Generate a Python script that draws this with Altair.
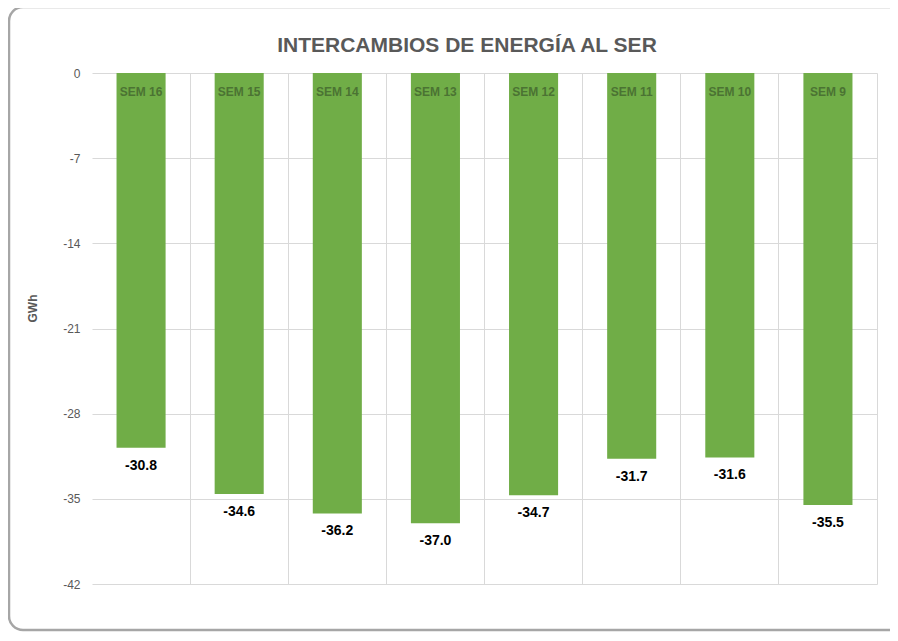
import altair as alt
import pandas as pd

weeks = ["SEM 16", "SEM 15", "SEM 14", "SEM 13", "SEM 12", "SEM 11", "SEM 10", "SEM 9"]
values = [-30.8, -34.6, -36.2, -37.0, -34.7, -31.7, -31.6, -35.5]
y_ticks = [0, -7, -14, -21, -28, -35, -42]
title_text = ["INTERCAMBIOS DE ENERGÍA AL SER"]

df = pd.DataFrame({"week": weeks, "value": values})
df["label"] = df["value"].map(lambda v: f"{v:.1f}")

FONT = "Liberation Sans Narrow, Arial Narrow, Liberation Sans, Arial, sans-serif"
GREEN = "#70AD47"

x_enc = alt.X("week:N", sort=weeks,
              scale=alt.Scale(paddingInner=0.5, paddingOuter=0.25),
              axis=alt.Axis(title=None, labels=False, ticks=False, domain=False,
                            grid=True, bandPosition=1.5, gridColor="#D9D9D9"))
y_scale = alt.Scale(domain=[-42, 0], nice=False, zero=False)

base = alt.Chart(df)

bars = base.mark_bar(color=GREEN).encode(
    x=x_enc,
    y=alt.Y("value:Q", scale=y_scale,
            axis=alt.Axis(values=y_ticks, title="GWh", grid=True, gridColor="#D9D9D9",
                          domain=False, ticks=False, labelPadding=12,
                          labelExpr="'' + datum.value",
                          labelColor="#595959", labelFont=FONT, labelFontSize=12,
                          titleFont=FONT, titleFontSize=12, titleColor="#595959",
                          titleFontWeight="bold", titleX=-60, titleY=235,
                          titleBaseline="middle", titleAlign="center", titleAngle=270)),
    y2=alt.datum(0),
)

cat_labels = base.mark_text(font=FONT, fontSize=12, fontWeight="bold", color="#4B7333",
                            baseline="middle", dy=19).encode(
    x=alt.X("week:N", sort=weeks),
    y=alt.datum(0),
    text="week:N",
)

val_labels = base.mark_text(font=FONT, fontSize=14, fontWeight="bold", color="#000000",
                            baseline="middle", dy=18).encode(
    x=alt.X("week:N", sort=weeks),
    y="value:Q",
    text="label:N",
)

title = alt.Chart(pd.DataFrame({"t": title_text})).mark_text(
    font=FONT, fontSize=21, fontWeight="bold", color="#595959",
    align="center", baseline="alphabetic"
).encode(x=alt.value(375), y=alt.value(-21), text="t:N")

frame = alt.Chart(pd.DataFrame({"a": [0]})).mark_rect(
    fill=None, stroke="#A6A6A6", strokeWidth=2.5, cornerRadius=14
).encode(
    x=alt.value(-83), x2=alt.value(820), y=alt.value(-66), y2=alt.value(557)
)

chart = alt.layer(frame, bars, cat_labels, val_labels, title).properties(
    width=785, height=511,
    autosize=alt.AutoSizeParams(type="none"),
    padding={"left": 84, "top": 65, "right": 13, "bottom": 49},
).configure_view(stroke=None)

chart.save("out.html", embed_options={"renderer": "svg", "actions": False})
